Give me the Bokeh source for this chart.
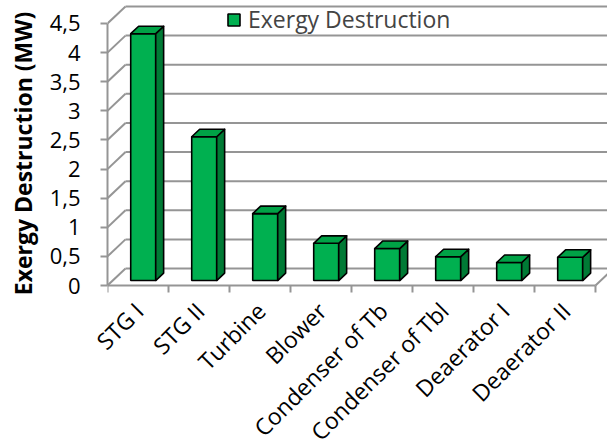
import numpy as np
from bokeh.plotting import figure
from bokeh.models import (Range1d, FixedTicker, CustomJSTickFormatter, Legend,
                          LegendItem, ColumnDataSource)
from bokeh.core.properties import value
from bokeh.embed import file_html
from bokeh.resources import INLINE

# ---------------- data ----------------
categories = ["STG I", "STG II", "Turbine", "Blower", "Condenser of Tb",
              "Condenser of Tbl", "Deaerator I", "Deaerator II"]
exergy_destruction = [4.24, 2.47, 1.15, 0.64, 0.55, 0.41, 0.31, 0.40]
y_ticks = [0, 0.5, 1, 1.5, 2, 2.5, 3, 3.5, 4, 4.5]
series_name = "Exergy Destruction"
y_title = "Exergy  Destruction (MW)"

# ---------------- style / 3D geometry ----------------
FONT = "Open Sans"
GRID = "#959595"
FRONT = "#00B050"
TOP = "#00A246"
SIDE = "#007A35"
DX = 0.295      # depth offset in category units
DY = 0.292      # depth offset in value units
F0, F1 = 0.29, 0.73   # bar depth (front, back) as fraction of full depth
HW = 0.205      # half bar width
TICK_LEN = 0.1202
LABEL_DX = 0.016  # label anchor shift (category units)
LABEL_Y = -0.361  # label anchor (value units, below the floor)
X_END = 8.197
Y_END = 4.895
Y_START = -0.2576
X_LEFT = -1.754   # left edge of the label strip (category units)
STRIP_TOP = -0.0859
Y_BOTTOM = -2.800 # bottom edge of the label strip (value units)

n = len(categories)
v = np.array(exergy_destruction, dtype=float)
idx = np.arange(n)
ymax = y_ticks[-1]

p = figure(frame_width=500, frame_height=300, x_range=Range1d(0, X_END),
           y_range=Range1d(Y_START, Y_END), output_backend="svg",
           toolbar_location=None, x_axis_location=None, title=None,
           min_border_left=107, min_border_right=0,
           min_border_top=0, min_border_bottom=0)
p.outline_line_color = None
p.xgrid.visible = False
p.ygrid.visible = False
p.background_fill_color = "white"

# ---- walls: left wall diagonals, back wall gridlines, floor edges ----
t = np.array(y_ticks, dtype=float)
p.segment(x0=np.zeros_like(t), y0=t, x1=np.full_like(t, DX), y1=t + DY,
          line_color=GRID, line_width=2)
p.segment(x0=np.full_like(t, DX), y0=t + DY, x1=np.full_like(t, n + 1.0), y1=t + DY,
          line_color=GRID, line_width=2)
p.segment(x0=[0, n], y0=[0, 0], x1=[n, n + DX], y1=[0, DY],
          line_color=GRID, line_width=2)
b = np.arange(n + 1, dtype=float)
p.segment(x0=b, y0=np.zeros_like(b), x1=b, y1=np.full_like(b, -TICK_LEN),
          line_color=GRID, line_width=2)

# ---- 3D bars ----
dd_x = (F1 - F0) * DX
xl = idx + 0.5 - HW + F0 * DX
xr = idx + 0.5 + HW + F0 * DX
y0 = F0 * DY
side_xs = [[a, a + dd_x, a + dd_x, a] for a in xr]
side_ys = [[y0, F1 * DY, h + F1 * DY, h + y0] for h in v]
top_xs = [[l, r, r + dd_x, l + dd_x] for l, r in zip(xl, xr)]
top_ys = [[h + y0, h + y0, h + F1 * DY, h + F1 * DY] for h in v]

src = ColumnDataSource(dict(x=idx + 0.5 + F0 * DX, top=v + y0,
                            bottom=np.full(n, y0)))
front = p.vbar(x="x", top="top", bottom="bottom", width=2 * HW, source=src,
               fill_color=FRONT, line_color="black", line_width=1.6)
p.patches(xs=side_xs, ys=side_ys, fill_color=SIDE, line_color="black",
          line_width=1.6, line_join="round")
p.patches(xs=top_xs, ys=top_ys, fill_color=TOP, line_color="black",
          line_width=1.6, line_join="round")

# ---- value axis ----
ya = p.yaxis[0]
ya.ticker = FixedTicker(ticks=y_ticks)
ya.bounds = (0, ymax)
ya.formatter = CustomJSTickFormatter(code="return tick.toString().replace('.', ',');")
ya.axis_line_color = GRID
ya.axis_line_width = 2
ya.major_tick_line_color = GRID
ya.major_tick_line_width = 2
ya.major_tick_out = 7
ya.major_tick_in = 0
ya.minor_tick_line_color = None
ya.major_label_standoff = 20
ya.major_label_text_font = FONT
ya.major_label_text_font_size = "22px"
ya.major_label_text_color = "black"
ya.axis_label = y_title
ya.axis_label_text_font = FONT
ya.axis_label_text_font_size = "23px"
ya.axis_label_text_font_style = "bold"
ya.axis_label_text_color = "black"
ya.axis_label_standoff = 8

legend = Legend(items=[LegendItem(label=series_name, renderers=[front])],
                location=(119, 265), border_line_color=None,
                background_fill_alpha=0, padding=0, margin=0,
                glyph_width=15, glyph_height=15, label_standoff=7,
                label_text_font=FONT, label_text_font_size="23px", spacing=0)
p.add_layout(legend)

# ---- category labels: a transparent strip under the chart, same scales ----
p2 = figure(frame_width=607, frame_height=158, x_range=Range1d(X_LEFT, X_END),
            y_range=Range1d(Y_BOTTOM, STRIP_TOP), output_backend="svg",
            toolbar_location=None, x_axis_location=None, y_axis_location=None,
            title=None, min_border_left=0, min_border_right=0,
            min_border_top=0, min_border_bottom=0)
p2.margin = (-10, 0, 0, 0)
p2.outline_line_color = None
p2.background_fill_color = None
p2.border_fill_color = None
p2.xgrid.visible = False
p2.ygrid.visible = False
p2.text(x=idx + 0.5 + LABEL_DX, y=np.full(n, LABEL_Y), text=categories,
        angle=np.pi / 4, text_align="right", text_baseline="middle",
        text_font=value(FONT), text_font_size=value("23px"), text_color="black")

open("out.html", "w").write(file_html([p, p2], INLINE))
